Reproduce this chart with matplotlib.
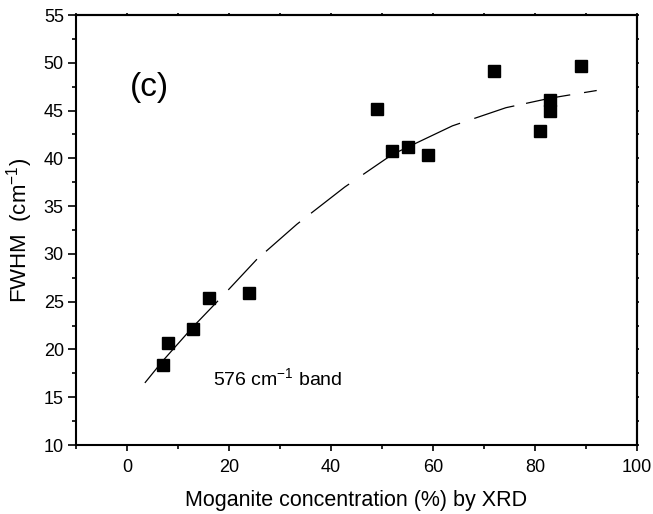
import matplotlib
matplotlib.use("Agg")
import matplotlib.pyplot as plt
import numpy as np

plt.rcParams['font.family'] = ['Liberation Sans', 'DejaVu Sans']
plt.rcParams['mathtext.fontset'] = 'custom'
plt.rcParams['mathtext.rm'] = 'Liberation Sans'
plt.rcParams['mathtext.it'] = 'Liberation Sans:italic'
plt.rcParams['mathtext.default'] = 'regular'

# measured data
moganite = [7, 8, 13, 16, 24, 49, 52, 55, 59, 72, 81, 83, 83, 89]
fwhm = [18.4, 20.7, 22.1, 25.4, 25.9, 45.2, 40.8, 41.2, 40.3, 49.1, 42.9, 46.1, 45.0, 49.7]

# fit curve
fit_x = [3.5, 7, 13, 18.4, 25.4, 33.3, 42.7, 52, 63.8, 74.3, 83, 92.1]
fit_y = [16.5, 18.8, 22.4, 25.4, 29.4, 33.1, 37.0, 40.4, 43.4, 45.3, 46.3, 47.1]

xticks = [0, 20, 40, 60, 80, 100]
yticks = [10, 15, 20, 25, 30, 35, 40, 45, 50, 55]

fig = plt.figure(figsize=(6.53, 5.14), dpi=100)
ax = fig.add_axes([0.1164, 0.1342, 0.8591, 0.8366])

px = 0.72
ax.plot(fit_x, fit_y, color='black', lw=0.9,
        dashes=[110*px/0.9, 15*px/0.9, 42*px/0.9, 12*px/0.9, 45*px/0.9, 14*px/0.9, 48*px/0.9, 17*px/0.9],
        zorder=2)
ax.plot(moganite, fwhm, linestyle='none', marker='s', ms=8.8, color='black', zorder=3)

ax.set_xlim(-10, 100)
ax.set_ylim(10, 55)
ax.set_xticks(xticks)
ax.set_yticks(yticks)
ax.set_xticks(np.arange(-10, 101, 10), minor=True)
ax.set_yticks(np.arange(10, 55.1, 2.5), minor=True)

for s in ax.spines.values():
    s.set_linewidth(1.5)

ax.tick_params(axis='x', which='major', direction='out', length=5.7*px, width=1.2, labelsize=13, pad=6)
ax.tick_params(axis='x', which='minor', direction='out', length=4*px, width=1.2)
ax.tick_params(axis='y', which='major', direction='out', length=8*px, width=1.2, labelsize=13, pad=3)
ax.tick_params(axis='y', which='minor', direction='out', length=4.3*px, width=1.2)

# tiny ticks on top/right
axt = ax.secondary_xaxis('top')
axt.set_xticks(xticks)
axt.set_xticks(np.arange(-10, 101, 10), minor=True)
axt.tick_params(which='both', direction='out', length=1.5, width=1.2, labeltop=False)
axt.spines['top'].set_linewidth(1.5)
axr = ax.secondary_yaxis('right')
axr.set_yticks(yticks)
axr.set_yticks(np.arange(10, 55.1, 2.5), minor=True)
axr.tick_params(which='both', direction='out', length=1.5, width=1.2, labelright=False)
axr.spines['right'].set_linewidth(1.5)
ax.tick_params(which='both', top=False, right=False)

ax.set_xlabel('Moganite concentration (%) by XRD', fontsize=15.5, labelpad=10)
ax.set_ylabel('FWHM  (cm$^{-1}$)', fontsize=16, labelpad=6)

ax.text(0.6, 47.4, '(c)', fontsize=24, ha='left', va='center')
ax.text(16.9, 17.0, '576 cm$^{-1}$ band', fontsize=14, ha='left', va='center')

fig.savefig('out.png', dpi=100)
